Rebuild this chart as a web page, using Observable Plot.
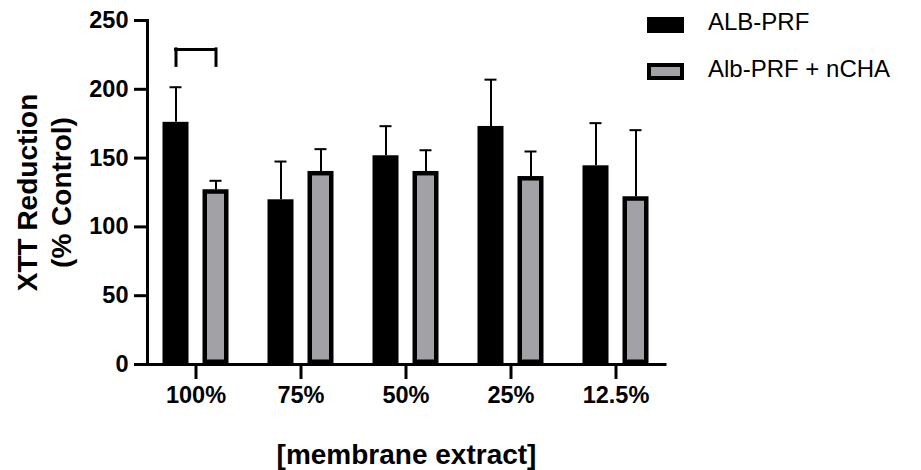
<!DOCTYPE html>
<html>
<head>
<meta charset="utf-8">
<script src="https://cdn.jsdelivr.net/npm/d3@7"></script>
<script src="https://cdn.jsdelivr.net/npm/@observablehq/plot@0.6"></script>
<style>
  body { margin: 0; background: #fff; }
  #wrap { position: relative; width: 921px; height: 470px; font-family: "Liberation Sans", Arial, sans-serif; }
  #legend { position: absolute; left: 647px; top: 0; width: 274px; height: 100px; font-size: 24px; color: #000; }
  .sw { position: absolute; left: 0; width: 37px; box-sizing: border-box; }
  .lab { position: absolute; left: 61px; line-height: 1; white-space: nowrap; }
</style>
</head>
<body>
<div id="wrap"></div>
<script>
const categories = ["100%", "75%", "50%", "25%", "12.5%"];
const seriesNames = ["ALB-PRF", "Alb-PRF + nCHA"];
const albPRF = [176, 119.7, 151.7, 173, 144.4];
const albPRFErr = [25.5, 27.8, 21.5, 34, 31];
const nCHA = [127, 140.3, 140.3, 136.6, 121.9];
const nCHAErr = [6.5, 16.2, 15.4, 18.2, 48.4];
const yTicks = [0, 50, 100, 150, 200, 250];
const bracketCategory = "100%";
const bracketLevels = [217, 229];
const yTitle = "XTT Reduction\n(% Control)";
const xTitle = "[membrane extract]";

const grayFill = "#a2a1a6";

const black = categories.map((c, i) => ({c, v: albPRF[i], hi: albPRF[i] + albPRFErr[i]}));
const gray = categories.map((c, i) => ({c, v: nCHA[i], hi: nCHA[i] + nCHAErr[i]}));
const bracketTop = [{c: bracketCategory, y: bracketLevels[1]}];
const bracketLegs = [{c: bracketCategory, y1: bracketLevels[0], y2: bracketLevels[1]}];

const chart = Plot.plot({
  width: 921,
  height: 470,
  marginLeft: 147,
  marginRight: 256,
  marginTop: 20,
  marginBottom: 106,
  style: {fontFamily: "'Liberation Sans', Arial, sans-serif", fontWeight: "bold", color: "#000", background: "#fff"},
  x: {type: "band", domain: categories, range: [143, 668], padding: 0},
  y: {domain: [0, 250]},
  marks: [
    Plot.barY(black, {x: "c", y: "v", fill: "#000", dx: -20, insetLeft: 39.5, insetRight: 39.5}),
    Plot.barY(gray, {x: "c", y: "v", fill: grayFill, stroke: "#000", strokeWidth: 4.5, dx: 20,
      insetLeft: 41.75, insetRight: 41.75, insetTop: 2.25, insetBottom: 2.25}),
    Plot.ruleX(black, {x: "c", y1: "v", y2: "hi", dx: -20, strokeWidth: 2}),
    Plot.tickY(black, {x: "c", y: "hi", dx: -20, insetLeft: 46.5, insetRight: 46.5, strokeWidth: 2}),
    Plot.ruleX(gray, {x: "c", y1: "v", y2: "hi", dx: 20, strokeWidth: 2}),
    Plot.tickY(gray, {x: "c", y: "hi", dx: 20, insetLeft: 46.5, insetRight: 46.5, strokeWidth: 2}),
    Plot.tickY(bracketTop, {x: "c", y: "y", insetLeft: 32.5, insetRight: 32.5, strokeWidth: 3, strokeLinecap: "square"}),
    Plot.ruleX(bracketLegs, {x: "c", y1: "y1", y2: "y2", dx: -20, strokeWidth: 3, strokeLinecap: "square"}),
    Plot.ruleX(bracketLegs, {x: "c", y1: "y1", y2: "y2", dx: 20, strokeWidth: 3, strokeLinecap: "square"}),
    Plot.frame({anchor: "left", strokeWidth: 3, strokeLinecap: "square"}),
    Plot.ruleY([0], {strokeWidth: 3, strokeLinecap: "square"}),
    Plot.axisY({ticks: yTicks, tickSize: 13, tickPadding: 6, fontSize: 23.5, fontWeight: "bold", strokeWidth: 3, label: null}),
    Plot.axisX({tickSize: 15, tickPadding: 7, fontSize: 23.5, fontWeight: "bold", strokeWidth: 3, label: null}),
    Plot.text([yTitle], {frameAnchor: "left", textAnchor: "middle", rotate: -90, dx: -104, fontSize: 28, fontWeight: "bold", lineHeight: 1.2, text: d => d}),
    Plot.text([xTitle], {frameAnchor: "bottom", textAnchor: "middle", dy: 99, lineAnchor: "bottom", fontSize: 28, fontWeight: "bold", text: d => d})
  ]
});

const wrap = document.getElementById("wrap");
wrap.appendChild(chart);

const legend = document.createElement("div");
legend.id = "legend";
const swatches = [
  {top: 17, h: 16, bg: "#000", border: "none"},
  {top: 63, h: 17, bg: grayFill, border: "4px solid #000"}
];
seriesNames.forEach((name, i) => {
  const s = document.createElement("div");
  s.className = "sw";
  s.style.top = swatches[i].top + "px";
  s.style.height = swatches[i].h + "px";
  s.style.background = swatches[i].bg;
  s.style.border = swatches[i].border;
  legend.appendChild(s);
  const t = document.createElement("div");
  t.className = "lab";
  t.style.top = (i === 0 ? 10 : 57) + "px";
  t.textContent = name;
  legend.appendChild(t);
});
wrap.appendChild(legend);
</script>
</body>
</html>
